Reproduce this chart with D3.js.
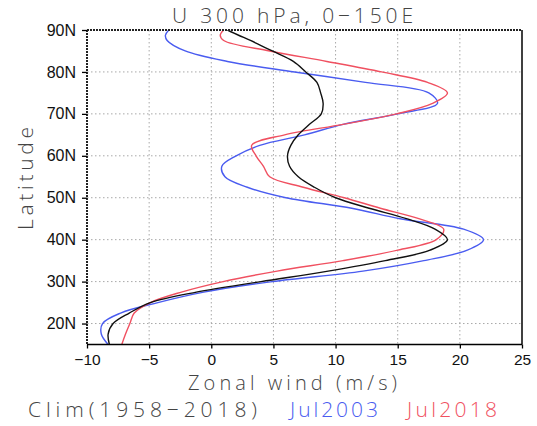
<!DOCTYPE html>
<html><head><meta charset="utf-8">
<script src="https://cdn.jsdelivr.net/npm/d3@7"></script>
<style>body{margin:0;background:#fff}</style>
</head><body><svg id="c" width="537" height="426"></svg>
<script>
// Latitude grid (degrees N)
const lats    = [15,17.5,20,22.5,25,27.5,30,32.5,35,37.5,40,42.5,45,47.5,50,52.5,55,57.5,60,62.5,65,67.5,70,72.5,75,77.5,80,82.5,85,87.5,88.75,90];
// Zonal wind (m/s)
const clim    = [-8.2,-8.3,-7.9,-6.6,-4.9,-1.2,4.0,9.4,14.0,17.6,19.0,18.0,15.7,12.7,10.0,8.3,7.0,6.3,6.13,6.4,7.0,7.9,8.85,9.0,8.8,8.5,7.6,6.6,4.9,3.15,2.2,1.3];
const jul2003 = [-8.3,-8.85,-8.75,-7.3,-4.3,-0.6,4.9,12.2,17.1,20.6,21.9,20.3,15.2,11.3,6.0,2.9,1.1,0.85,2.0,3.9,7.5,10.6,15.0,18.2,17.5,12.4,6.7,1.3,-2.1,-3.55,-3.69,-3.42];
const jul2018 = [-7.2,-6.9,-6.55,-6.2,-4.9,-2.4,0.95,5.3,10.6,15.0,18.1,18.7,16.7,13.6,10.7,7.4,4.7,4.2,3.6,3.25,5.9,10.6,14.9,17.8,19.0,17.4,13.7,9.3,4.7,1.0,0.72,1.0];
const xTicks = [-10,-5,0,5,10,15,20,25];
const yTicks = [20,30,40,50,60,70,80,90];
const series = [
  {name:"Clim(1958\u22122018)", values:clim, color:"#111111", lx:28, lw:229},
  {name:"Jul2003", values:jul2003, color:"#4a5cf0", lx:290, lw:88},
  {name:"Jul2018", values:jul2018, color:"#f05060", lx:407, lw:90}
];

const svg = d3.select("#c");
const L=87, R=522, T=30, B=344.5;
const x = d3.scaleLinear().domain([-10,25]).range([L,R]);
const y = d3.scaleLinear().domain([15,90]).range([B,T]);
const fontT = "'Open Sans', 'DejaVu Sans', sans-serif";

// grid
const g = svg.append("g");
g.selectAll(".gx").data(xTicks.filter(d=>d>-10&&d<25)).enter().append("line")
  .attr("x1",d=>x(d)).attr("x2",d=>x(d)).attr("y1",T).attr("y2",B)
  .attr("stroke","#a8a8a8").attr("stroke-width",1).attr("stroke-dasharray","1.5,2.5");
g.selectAll(".gy").data(yTicks.filter(d=>d<90)).enter().append("line")
  .attr("x1",L).attr("x2",R).attr("y1",d=>y(d)).attr("y2",d=>y(d))
  .attr("stroke","#a8a8a8").attr("stroke-width",1).attr("stroke-dasharray","1.5,2.5");

// lines
svg.append("clipPath").attr("id","clip").append("rect").attr("x",L).attr("y",T).attr("width",R-L).attr("height",B-T);
const line = d3.line().x(d=>x(d[1])).y(d=>y(d[0])).curve(d3.curveCatmullRom.alpha(0.5));
const order = [series[1], series[2], series[0]];
svg.append("g").attr("clip-path","url(#clip)").selectAll("path").data(order).enter().append("path")
  .attr("d",s=>line(lats.map((la,i)=>[la,s.values[i]])))
  .attr("fill","none").attr("stroke",s=>s.color).attr("stroke-width",1.4);

// frame
svg.append("line").attr("x1",L).attr("x2",R).attr("y1",B).attr("y2",B).attr("stroke","#000").attr("stroke-width",1.5);
svg.append("line").attr("x1",R).attr("x2",R).attr("y1",T).attr("y2",B).attr("stroke","#000").attr("stroke-width",1.5);
svg.append("line").attr("x1",L).attr("x2",R).attr("y1",T).attr("y2",T).attr("stroke","#222").attr("stroke-width",2).attr("stroke-dasharray","2,1");
svg.append("line").attr("x1",L).attr("x2",L).attr("y1",T).attr("y2",B).attr("stroke","#222").attr("stroke-width",2).attr("stroke-dasharray","2,1");

// axes
const xAxis = d3.axisBottom(x).tickValues(xTicks).tickSize(4).tickPadding(5).tickFormat(d=>d<0?"\u2212"+Math.abs(d):d);
const ax = svg.append("g").attr("transform",`translate(0,${B})`).call(xAxis);
ax.select(".domain").remove();
ax.selectAll("line").attr("stroke","#000").attr("stroke-width",1.3);
ax.selectAll("text").attr("font-family","'Liberation Sans', Arial, sans-serif").attr("font-size",15.5).attr("fill","#111");

const yAxis = d3.axisLeft(y).tickValues(yTicks).tickSize(5).tickPadding(6).tickFormat(d=>d+"N");
const ay = svg.append("g").attr("transform",`translate(${L},0)`).call(yAxis);
ay.select(".domain").remove();
ay.selectAll("line").attr("stroke","#000").attr("stroke-width",1.3);
ay.selectAll("text").attr("font-family","'Liberation Sans', Arial, sans-serif").attr("font-size",16).attr("fill","#111");

// titles
svg.append("text").attr("x",172).attr("y",23).text("U 300 hPa, 0\u2212150E")
  .attr("font-family",fontT).attr("font-weight",300).attr("font-size",21).attr("fill","#444")
  .attr("textLength",241).attr("lengthAdjust","spacing");
svg.append("text").attr("x",188).attr("y",390).text("Zonal wind (m/s)")
  .attr("font-family",fontT).attr("font-weight",300).attr("font-size",20).attr("fill","#444")
  .attr("textLength",209).attr("lengthAdjust","spacing");
svg.append("text").attr("transform","translate(33,230) rotate(-90)").text("Latitude")
  .attr("font-family",fontT).attr("font-weight",300).attr("font-size",21).attr("fill","#444")
  .attr("textLength",103).attr("lengthAdjust","spacing");

// legend
svg.selectAll(".leg").data(series).enter().append("text")
  .attr("x",s=>s.lx).attr("y",417).text(s=>s.name)
  .attr("font-family",fontT).attr("font-weight",300).attr("font-size",21)
  .attr("fill",s=>s.name.startsWith("Clim")?"#444":s.color)
  .attr("textLength",s=>s.lw).attr("lengthAdjust","spacing");
</script></body></html>
